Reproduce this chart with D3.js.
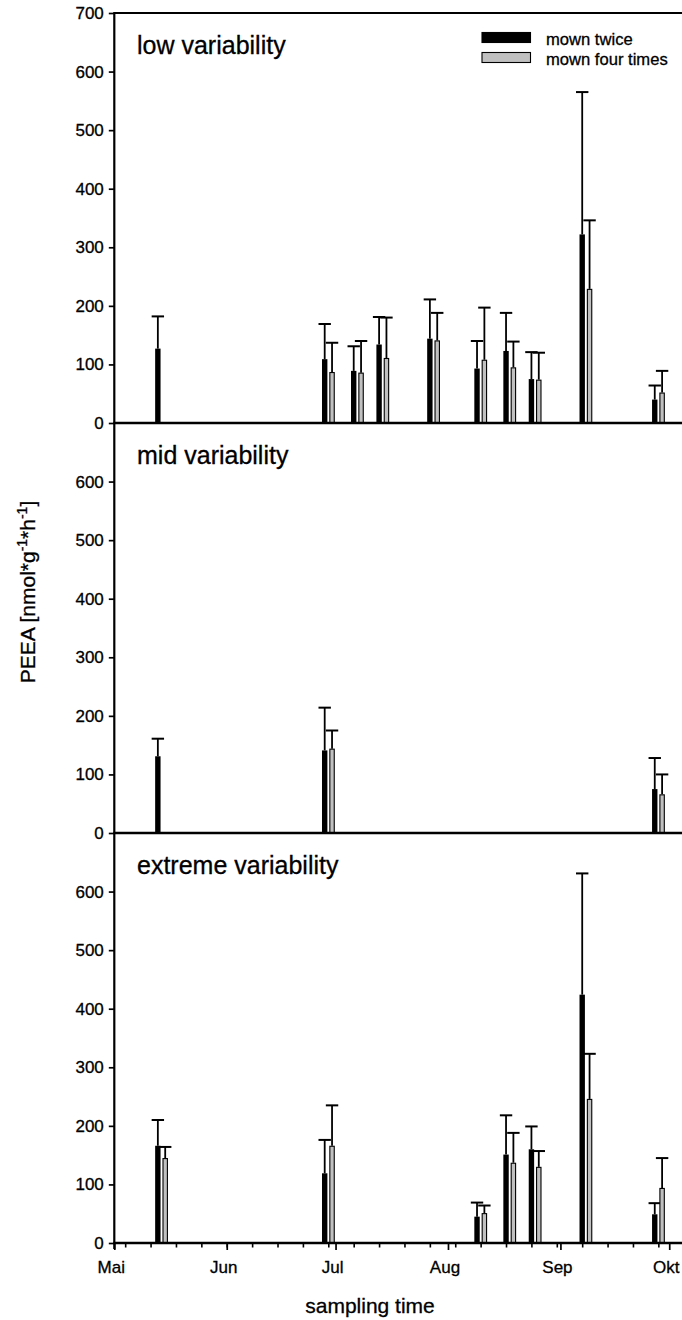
<!DOCTYPE html>
<html><head><meta charset="utf-8">
<script src="https://cdn.jsdelivr.net/npm/d3@7"></script>
<style>
body{margin:0;background:#fff}
svg{display:block}
text{font-family:"Liberation Sans",Arial,sans-serif;fill:#000;stroke:#000;stroke-width:0.3px}
</style>
</head><body>
<svg id="chart" width="682" height="1320"></svg>
<script>
// ---------- data ----------
const panelTitles = ["low variability", "mid variability", "extreme variability"];
const seriesNames = ["mown twice", "mown four times"];
const monthLabels = ["Mai", "Jun", "Jul", "Aug", "Sep", "Okt"];
const yTicksTop = [0, 100, 200, 300, 400, 500, 600, 700];
const yTicksLower = [0, 100, 200, 300, 400, 500, 600];
const yLabel = "PEEA [nmol*g-1*h-1]";
const xLabel = "sampling time";

const lowDates = ["2009-05-14","2009-06-29","2009-07-07","2009-07-14","2009-07-28","2009-08-10","2009-08-18","2009-08-25","2009-09-08","2009-09-28"];
const lowTwice = [127, 109, 89, 134, 144, 93, 123, 75, 322, 40];
const lowTwiceErr = [55, 60, 42, 47, 67, 47, 65, 46, 243, 24];
const lowFour = [null, 87, 86, 111, 141, 108, 95, 74, 229, 52];
const lowFourErr = [null, 50, 54, 69, 47, 89, 44, 46, 117, 37];

const midDates = ["2009-05-14","2009-06-29","2009-09-28"];
const midTwice = [131, 141, 75];
const midTwiceErr = [30, 73, 53];
const midFour = [null, 144, 66];
const midFourErr = [null, 31, 34];

const extDates = ["2009-05-14","2009-06-29","2009-08-10","2009-08-18","2009-08-25","2009-09-08","2009-09-28"];
const extTwice = [166, 119, 45, 151, 160, 424, 49];
const extTwiceErr = [44, 57, 24, 67, 39, 207, 19];
const extFour = [145, 166, 51, 137, 130, 246, 94];
const extFourErr = [19, 69, 13, 51, 27, 77, 51];

const xStart = "2009-05-01", xEnd = "2009-10-05";

// ---------- build ----------
const parse = d3.timeParse("%Y-%m-%d");
const panels = [
  {title: panelTitles[0], dates: lowDates, twice: lowTwice, twiceErr: lowTwiceErr, four: lowFour, fourErr: lowFourErr, ticks: yTicksTop},
  {title: panelTitles[1], dates: midDates, twice: midTwice, twiceErr: midTwiceErr, four: midFour, fourErr: midFourErr, ticks: yTicksLower},
  {title: panelTitles[2], dates: extDates, twice: extTwice, twiceErr: extTwiceErr, four: extFour, fourErr: extFourErr, ticks: yTicksLower}
];

const svg = d3.select("#chart");
const left = 114.3;
const x = d3.scaleTime().domain([parse(xStart), parse(xEnd)]).range([left, left + 157 * 3.627]);
const panelTop0 = 13, panelH = 410;
const right = 690;

panels.forEach((p, i) => {
  const top = panelTop0 + i * panelH;
  const y = d3.scaleLinear().domain([0, 700]).range([top + panelH, top]);
  const g = svg.append("g");

  const ya = g.append("g").attr("transform", `translate(${left},0)`)
    .call(d3.axisLeft(y).tickValues(p.ticks).tickSize(5.5).tickPadding(5).tickFormat(d3.format("d")));
  ya.select(".domain").remove();
  ya.selectAll(".tick line").attr("stroke", "#000").attr("stroke-width", 1.7);
  ya.selectAll(".tick text").attr("font-size", 17).attr("font-family", "Liberation Sans, Arial, sans-serif").attr("fill", "#000");

  if (i === 0) {
    g.append("line").attr("x1", left).attr("x2", right).attr("y1", y(700)).attr("y2", y(700))
      .attr("stroke", "#000").attr("stroke-width", 2.2);
  }

  const rows = p.dates.map((d, k) => ({date: parse(d), twice: p.twice[k], te: p.twiceErr[k], four: p.four[k], fe: p.fourErr[k]}));
  const bw = 5.4;
  rows.forEach(r => {
    const xd = x(r.date);
    if (r.twice != null) {
      const cx = xd - 3.6;
      g.append("line").attr("x1", cx).attr("x2", cx).attr("y1", y(r.twice)).attr("y2", y(r.twice + r.te))
        .attr("stroke", "#000").attr("stroke-width", 1.8);
      g.append("line").attr("x1", cx - 6.2).attr("x2", cx + 6.2).attr("y1", y(r.twice + r.te)).attr("y2", y(r.twice + r.te))
        .attr("stroke", "#000").attr("stroke-width", 2);
      g.append("rect").attr("x", cx - bw / 2).attr("width", bw).attr("y", y(r.twice)).attr("height", y(0) - y(r.twice))
        .attr("fill", "#000");
    }
    if (r.four != null) {
      const cx = xd + 3.75;
      g.append("line").attr("x1", cx).attr("x2", cx).attr("y1", y(r.four)).attr("y2", y(r.four + r.fe))
        .attr("stroke", "#000").attr("stroke-width", 1.8);
      g.append("line").attr("x1", cx - 6.2).attr("x2", cx + 6.2).attr("y1", y(r.four + r.fe)).attr("y2", y(r.four + r.fe))
        .attr("stroke", "#000").attr("stroke-width", 2);
      g.append("rect").attr("x", cx - (bw - 1) / 2).attr("width", bw - 1).attr("y", y(r.four) + 0.5).attr("height", Math.max(0, y(0) - y(r.four) - 0.5))
        .attr("fill", "#c0c0c0").attr("stroke", "#000").attr("stroke-width", 1.1);
    }
  });

  g.append("line").attr("x1", left - 1).attr("x2", right).attr("y1", y(0)).attr("y2", y(0))
    .attr("stroke", "#000").attr("stroke-width", 2.3);

  g.append("text").attr("x", 137).attr("y", top + 41).attr("font-size", 25).text(p.title);

  if (i === panels.length - 1) {
    const y0 = y(0);
    const months = d3.timeMonth.range(parse(xStart), d3.timeDay.offset(parse(xEnd), 1));
    const weeks = d3.timeMonday.range(parse(xStart), parse(xEnd));
    const minor = g.append("g").attr("transform", `translate(0,${y0})`)
      .call(d3.axisBottom(x).tickValues(weeks).tickSize(4.5).tickFormat(""));
    minor.select(".domain").remove();
    minor.selectAll(".tick line").attr("stroke", "#000").attr("stroke-width", 1.6);
    const major = g.append("g").attr("transform", `translate(0,${y0})`)
      .call(d3.axisBottom(x).tickValues(months).tickSize(7).tickPadding(11)
        .tickFormat((d, k) => monthLabels[k]));
    major.select(".domain").remove();
    major.selectAll(".tick line").attr("stroke", "#000").attr("stroke-width", 1.7);
    major.selectAll(".tick text").attr("font-size", 17).attr("dx", -3.5)
      .attr("font-family", "Liberation Sans, Arial, sans-serif").attr("fill", "#000");
  }
});

svg.append("line").attr("x1", left).attr("x2", left).attr("y1", panelTop0 - 1).attr("y2", panelTop0 + 3 * panelH + 6)
  .attr("stroke", "#000").attr("stroke-width", 2.2);

const legend = svg.append("g");
const legendFills = ["#000", "#c0c0c0"];
seriesNames.forEach((n, k) => {
  const ly = 32.5 + k * 20;
  legend.append("rect").attr("x", 482).attr("y", ly).attr("width", 48.5).attr("height", 10)
    .attr("fill", legendFills[k]).attr("stroke", "#000").attr("stroke-width", 1.1);
  legend.append("text").attr("x", 546).attr("y", ly + 12).attr("font-size", 16.6).text(n);
});

svg.append("text").attr("x", 370).attr("y", 1312.5).attr("text-anchor", "middle").attr("font-size", 21).text(xLabel);

const parts = yLabel.match(/^(.*?g)(-1)(\*h)(-1)(\])$/);
const yl = svg.append("text").attr("transform", "translate(35,592) rotate(-90)").attr("text-anchor", "middle").attr("font-size", 21);
yl.append("tspan").text(parts[1]);
yl.append("tspan").attr("font-size", 14).attr("dy", -8).text(parts[2]);
yl.append("tspan").attr("dy", 8).text(parts[3]);
yl.append("tspan").attr("font-size", 14).attr("dy", -8).text(parts[4]);
yl.append("tspan").attr("dy", 8).text(parts[5]);
</script>
</body></html>
